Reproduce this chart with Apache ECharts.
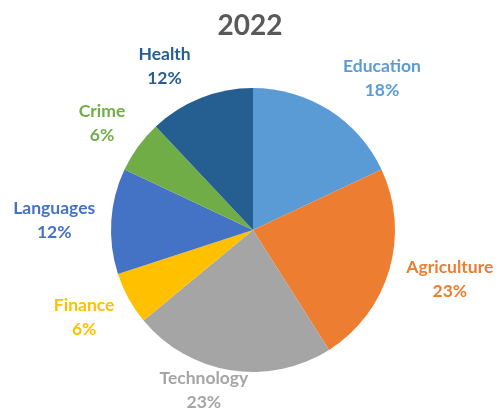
<!DOCTYPE html>
<html>
<head>
<meta charset="utf-8">
<script src="https://cdn.jsdelivr.net/npm/echarts@6/dist/echarts.min.js"></script>
<style>
  html, body { margin: 0; padding: 0; background: #ffffff; }
  #chart { width: 500px; height: 412px; }
</style>
</head>
<body>
<div id="chart"></div>
<script>
// Share of projects by sector, 2022 (percent)
const categories = ['Education', 'Agriculture', 'Technology', 'Finance', 'Languages', 'Crime', 'Health'];
const shares = [18, 23, 23, 6, 12, 6, 12];
const chartTitle = '2022';

const sliceColors = ['#5B9BD5', '#ED7D31', '#A5A5A5', '#FFC000', '#4472C4', '#70AD47', '#255E91'];

// Pie geometry
const pieCenter = [253, 230];
const pieRadius = 142;

// Label placement: angular nudge (degrees, clockwise) from the slice's middle and
// distance of the label block's centre from the pie centre.
const labelTurn = [8, -2, 8, 1.5, -0.7, -0.7, -6.8];
const labelDist = [199, 203, 168, 190, 199, 185, 186];

const total = shares.reduce((a, b) => a + b, 0);
function midAngle(i) {
  let before = 0;
  for (let k = 0; k < i; k++) before += shares[k];
  return (before + shares[i] / 2) / total * 360;
}

const chart = echarts.init(document.getElementById('chart'));
chart.setOption({
  backgroundColor: '#ffffff',
  animation: false,
  title: {
    text: chartTitle,
    left: 'center',
    top: 7,
    textStyle: {
      fontFamily: 'Lato',
      fontSize: 28,
      fontWeight: 'bold',
      color: '#595959',
      lineHeight: 28
    }
  },
  series: [{
    type: 'pie',
    center: pieCenter,
    radius: pieRadius,
    startAngle: 90,
    clockwise: true,
    avoidLabelOverlap: false,
    itemStyle: { borderWidth: 0 },
    label: {
      show: true,
      position: 'outside',
      formatter: p => p.name + '\n' + p.value + '%',
      fontFamily: 'Lato',
      fontSize: 17.5,
      fontWeight: 'bold',
      lineHeight: 24,
      align: 'center',
      color: 'inherit'
    },
    labelLine: { show: false },
    labelLayout: params => {
      const i = params.dataIndex;
      const a = (midAngle(i) + labelTurn[i]) * Math.PI / 180;
      return {
        x: pieCenter[0] + labelDist[i] * Math.sin(a),
        y: pieCenter[1] - labelDist[i] * Math.cos(a),
        align: 'center',
        verticalAlign: 'middle'
      };
    },
    data: categories.map((name, i) => ({
      name: name,
      value: shares[i],
      itemStyle: { color: sliceColors[i] },
      label: { color: sliceColors[i] }
    }))
  }]
});
</script>
</body>
</html>
